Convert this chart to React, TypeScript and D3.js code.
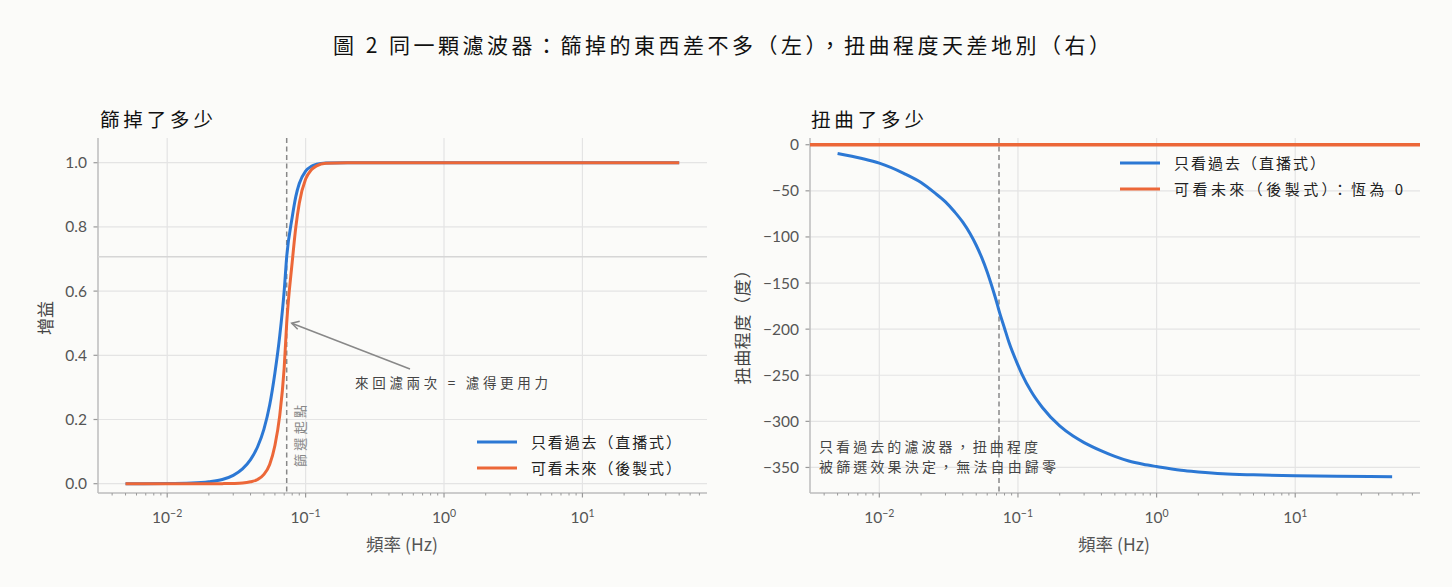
import * as d3 from "d3";

// gain curves (left panel)
const gainFreqs = [
  0.005, 0.01, 0.015, 0.02, 0.025, 0.03, 0.035, 0.04, 0.045, 0.05, 0.055, 0.06, 0.065, 0.07, 0.073,
  0.08, 0.085, 0.09, 0.1, 0.11, 0.12, 0.14, 0.2, 0.5, 1, 2, 5, 10, 20, 50,
];
const gainLive = [
  0.0, 0.0005, 0.002, 0.006, 0.013, 0.026, 0.046, 0.075, 0.115, 0.17, 0.245, 0.345, 0.46, 0.6, 0.707,
  0.83, 0.895, 0.935, 0.974, 0.989, 0.995, 0.999, 1.0, 1.0, 1.0, 1.0, 1.0, 1.0, 1.0, 1.0,
];
const gainOffline = [
  0.0, 0.0, 0.0, 0.0, 0.0002, 0.0007, 0.002, 0.006, 0.013, 0.029, 0.06, 0.119, 0.212, 0.36, 0.5,
  0.69, 0.8, 0.874, 0.949, 0.978, 0.99, 0.998, 1.0, 1.0, 1.0, 1.0, 1.0, 1.0, 1.0, 1.0,
];

// phase curve (right panel)
const phaseFreqs = [
  0.005, 0.0075, 0.01, 0.015, 0.02, 0.025, 0.03, 0.035, 0.04, 0.045, 0.05, 0.055, 0.06, 0.065, 0.07,
  0.073, 0.08, 0.086, 0.1, 0.107, 0.125, 0.15, 0.2, 0.25, 0.3, 0.4, 0.5, 0.63, 0.8, 1, 1.5, 2, 3, 5,
  10, 20, 50,
];
const phaseLive = [
  -9.5, -15, -20, -31, -41, -52, -62, -73, -84, -96, -109, -123, -138, -154, -170, -180, -199, -214,
  -239, -249, -268, -285, -305, -316, -323, -332, -338, -343, -346.5, -349, -353, -354.8, -356.8,
  -358, -359, -359.6, -360,
];
const phaseOffline = 0;

const cutoffHz = 0.073;
const halfPower = 0.707;

const gainTicks = [0, 0.2, 0.4, 0.6, 0.8, 1.0];
const phaseTicks = [0, -50, -100, -150, -200, -250, -300, -350];
const decadeExps = [-2, -1, 0, 1];

const BLUE = "#2c78d4";
const ORANGE = "#ec6738";
const GRID = "#e4e4e4";
const SPINE = "#bdbdbd";
const TICKTXT = "#555";
const CJK = "'Noto Sans CJK TC', 'Noto Sans', sans-serif";
const NUM = "Lato, 'Noto Sans', sans-serif";

const W = 1452;
const H = 587;
const top = 138;
const bottom = 493;

const xDomain: [number, number] = [Math.pow(10, -2.5), Math.pow(10, 1.9)];

const minorTicks = (() => {
  const out: number[] = [];
  for (let e = -3; e <= 1; e++) {
    for (let m = 2; m <= 9; m++) {
      const v = m * Math.pow(10, e);
      if (v >= xDomain[0] && v <= xDomain[1]) out.push(v);
    }
  }
  return out;
})();

function XAxis({ x }: { x: d3.ScaleLogarithmic<number, number> }) {
  return (
    <g>
      {decadeExps.map((e) => (
        <line key={"g" + e} x1={x(Math.pow(10, e))} x2={x(Math.pow(10, e))} y1={top} y2={bottom} stroke={GRID} strokeWidth={1.2} />
      ))}
      <line x1={x.range()[0]} x2={x.range()[1]} y1={bottom} y2={bottom} stroke={SPINE} strokeWidth={1.5} />
      {minorTicks.map((v) => (
        <line key={"m" + v} x1={x(v)} x2={x(v)} y1={bottom} y2={bottom + 2.5} stroke="#999" strokeWidth={1} />
      ))}
      {decadeExps.map((e) => (
        <g key={"t" + e}>
          <line x1={x(Math.pow(10, e))} x2={x(Math.pow(10, e))} y1={bottom} y2={bottom + 4.5} stroke="#999" strokeWidth={1.2} />
          <text x={x(Math.pow(10, e))} y={523} textAnchor="middle" fontFamily={NUM} fontSize={15.5} fill={TICKTXT}>
            10
            <tspan dy={-6} fontSize={10.5}>
              {e < 0 ? "\u2212" + Math.abs(e) : String(e)}
            </tspan>
          </text>
        </g>
      ))}
    </g>
  );
}

function YAxis({
  y,
  x0,
  x1,
  ticks,
  fmt,
}: {
  y: d3.ScaleLinear<number, number>;
  x0: number;
  x1: number;
  ticks: number[];
  fmt: (v: number) => string;
}) {
  return (
    <g>
      {ticks.map((t) => (
        <g key={t}>
          <line x1={x0} x2={x1} y1={y(t)} y2={y(t)} stroke={GRID} strokeWidth={1.2} />
          <line x1={x0 - 4.5} x2={x0} y1={y(t)} y2={y(t)} stroke="#999" strokeWidth={1.2} />
          <text x={x0 - 11} y={y(t) + 5.5} textAnchor="end" fontFamily={NUM} fontSize={15.5} fill={TICKTXT}>
            {fmt(t)}
          </text>
        </g>
      ))}
      <line x1={x0} x2={x0} y1={top} y2={bottom} stroke={SPINE} strokeWidth={1.5} />
    </g>
  );
}

function Legend({ x, y, labels, widths }: { x: number; y: number; labels: string[]; widths: number[] }) {
  const colors = [BLUE, ORANGE];
  return (
    <g>
      {labels.map((l, i) => (
        <g key={l}>
          <line x1={x} x2={x + 40} y1={y + i * 26} y2={y + i * 26} stroke={colors[i]} strokeWidth={3} />
          <text
            x={x + 54}
            y={y + i * 26 + 6}
            fontFamily={CJK}
            fontSize={15}
            fill="#222"
            textLength={widths[i]}
            lengthAdjust="spacing"
          >
            {l}
          </text>
        </g>
      ))}
    </g>
  );
}

export default function App() {
  const xl = d3.scaleLog().domain(xDomain).range([98, 707]);
  const xr = d3.scaleLog().domain(xDomain).range([810, 1420]);
  const yGain = d3.scaleLinear().domain([-0.029, 1.077]).range([bottom, top]);
  const yPhase = d3.scaleLinear().domain([-377.7, 7.3]).range([bottom, top]);

  const gainLine = (vals: number[]) =>
    d3
      .line<number>()
      .x((_, i) => xl(gainFreqs[i]))
      .y((d) => yGain(d))
      .curve(d3.curveMonotoneX)(vals) || "";

  const phaseLine =
    d3
      .line<number>()
      .x((_, i) => xr(phaseFreqs[i]))
      .y((d) => yPhase(d))
      .curve(d3.curveMonotoneX)(phaseLive) || "";

  return (
    <svg
      width={W}
      height={H}
      viewBox={`0 0 ${W} ${H}`}
      style={{ position: "absolute", left: 0, top: 0, background: "#fbfbf9" }}
    >
      <rect width={W} height={H} fill="#fbfbf9" />
      <text x={333} y={53} fontFamily={CJK} fontSize={21} fill="#111" textLength={777} lengthAdjust="spacing">
        圖 2 同一顆濾波器：篩掉的東西差不多（左），扭曲程度天差地別（右）
      </text>

      {/* left panel */}
      <text x={100} y={127} fontFamily={CJK} fontSize={19.5} fill="#111" textLength={113} lengthAdjust="spacing">
        篩掉了多少
      </text>
      <YAxis y={yGain} x0={98} x1={707} ticks={gainTicks} fmt={(v) => v.toFixed(1)} />
      <XAxis x={xl} />
      <line x1={98} x2={707} y1={yGain(halfPower)} y2={yGain(halfPower)} stroke="#d6d6d6" strokeWidth={1.5} />
      <line x1={xl(cutoffHz)} x2={xl(cutoffHz)} y1={top} y2={bottom} stroke="#888" strokeWidth={1.5} strokeDasharray="5,3.5" />
      <path d={gainLine(gainLive)} fill="none" stroke={BLUE} strokeWidth={3} strokeLinejoin="round" />
      <path d={gainLine(gainOffline)} fill="none" stroke={ORANGE} strokeWidth={3} strokeLinejoin="round" />
      <text
        transform={`translate(${xl(cutoffHz) + 18},467) rotate(-90)`}
        fontFamily={CJK}
        fontSize={13}
        fill="#888"
        textLength={62}
        lengthAdjust="spacing"
      >
        篩選起點
      </text>
      <line x1={410} y1={369} x2={xl(cutoffHz) + 5} y2={yGain(0.5)} stroke="#888" strokeWidth={1.5} />
      <path
        d={`M${xl(cutoffHz) + 13},${yGain(0.5) - 2} L${xl(cutoffHz) + 5},${yGain(0.5)} L${xl(cutoffHz) + 11},${yGain(0.5) + 6}`}
        fill="none"
        stroke="#888"
        strokeWidth={1.5}
      />
      <text x={355} y={388} fontFamily={CJK} fontSize={13.5} fill="#444" textLength={193} lengthAdjust="spacing">
        來回濾兩次 = 濾得更用力
      </text>
      <Legend x={477} y={442} labels={["只看過去（直播式）", "可看未來（後製式）"]} widths={[150, 150]} />
      <text
        transform="translate(52,318) rotate(-90)"
        textAnchor="middle"
        fontFamily={CJK}
        fontSize={17}
        fill="#444"
      >
        增益
      </text>
      <text x={402} y={551} textAnchor="middle" fontFamily={CJK} fontSize={17.5} fill="#555">
        頻率 (Hz)
      </text>

      {/* right panel */}
      <text x={811} y={127} fontFamily={CJK} fontSize={19.5} fill="#111" textLength={113} lengthAdjust="spacing">
        扭曲了多少
      </text>
      <YAxis y={yPhase} x0={810} x1={1420} ticks={phaseTicks} fmt={(v) => (v < 0 ? "\u2212" + Math.abs(v) : String(v))} />
      <XAxis x={xr} />
      <line x1={xr(cutoffHz)} x2={xr(cutoffHz)} y1={top} y2={bottom} stroke="#888" strokeWidth={1.5} strokeDasharray="5,3.5" />
      <line x1={810} x2={1420} y1={yPhase(phaseOffline)} y2={yPhase(phaseOffline)} stroke={ORANGE} strokeWidth={3.5} />
      <path d={phaseLine} fill="none" stroke={BLUE} strokeWidth={3} strokeLinejoin="round" />
      <text x={819} y={452} fontFamily={CJK} fontSize={14} fill="#444" textLength={219} lengthAdjust="spacing">
        只看過去的濾波器，扭曲程度
      </text>
      <text x={819} y={472} fontFamily={CJK} fontSize={14} fill="#444" textLength={237} lengthAdjust="spacing">
        被篩選效果決定，無法自由歸零
      </text>
      <Legend x={1120} y={163} labels={["只看過去（直播式）", "可看未來（後製式）：恆為 0"]} widths={[151, 229]} />
      <text
        transform="translate(749,323) rotate(-90)"
        textAnchor="middle"
        fontFamily={CJK}
        fontSize={17}
        fill="#444"
        textLength={123}
        lengthAdjust="spacing"
      >
        扭曲程度（度）
      </text>
      <text x={1114} y={551} textAnchor="middle" fontFamily={CJK} fontSize={17.5} fill="#555">
        頻率 (Hz)
      </text>
    </svg>
  );
}
